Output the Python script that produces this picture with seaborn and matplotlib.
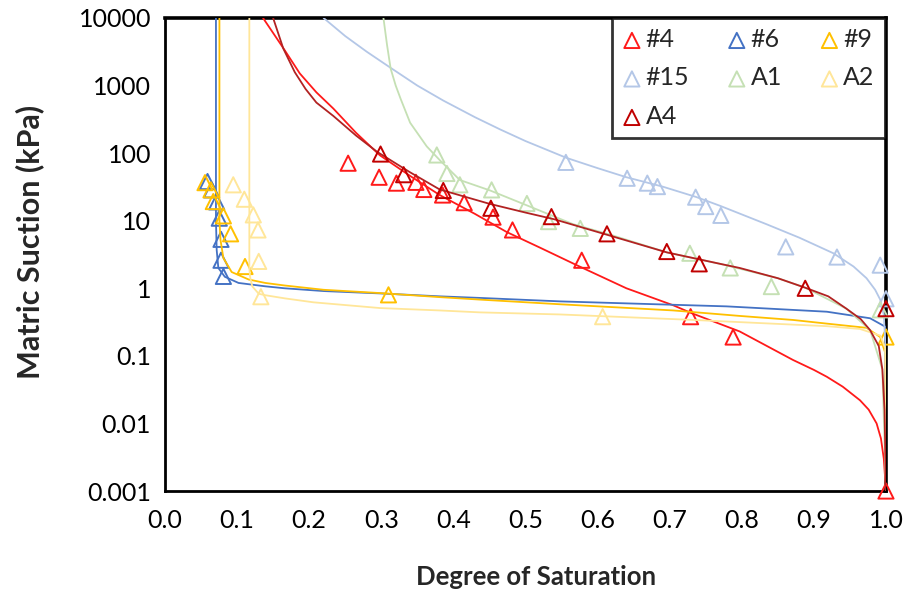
import matplotlib
matplotlib.use('Agg')
import matplotlib.pyplot as plt
import seaborn as sns
import numpy as np
from matplotlib.ticker import LogLocator, MultipleLocator, FuncFormatter, NullFormatter

# measured points: degree of saturation / matric suction (kPa)
s_4 = [0.254, 0.297, 0.321, 0.348, 0.359, 0.385, 0.415, 0.455, 0.482, 0.578, 0.729, 0.788, 1.0]
p_4 = [71, 44, 36, 37, 29, 24, 18.5, 11.3, 7.3, 2.6, 0.38, 0.19, 0.001]
s_6 = [0.059, 0.0647, 0.0717, 0.0753, 0.0777, 0.0777, 0.081]
p_6 = [38, 28.6, 19, 10.9, 5.3, 2.6, 1.5]
s_9 = [0.0555, 0.0638, 0.067, 0.081, 0.091, 0.111, 0.31, 1.0]
p_9 = [36.6, 28.6, 19.2, 11.8, 6.4, 2.1, 0.8, 0.19]
s_15 = [0.556, 0.641, 0.669, 0.683, 0.736, 0.750, 0.771, 0.861, 0.932, 0.992, 1.0]
p_15 = [73, 42.5, 36, 32, 22.3, 16.2, 12, 4.1, 2.9, 2.2, 0.7]
s_a1 = [0.377, 0.391, 0.409, 0.453, 0.502, 0.532, 0.576, 0.728, 0.784, 0.841, 0.992]
p_a1 = [94, 50, 34, 28.6, 18, 9.7, 7.7, 3.3, 2.0, 1.06, 0.48]
s_a2 = [0.0947, 0.110, 0.1225, 0.129, 0.130, 0.133, 0.607]
p_a2 = [34, 20.8, 12.2, 7.3, 2.5, 0.75, 0.38]
s_a4 = [0.299, 0.331, 0.386, 0.452, 0.536, 0.613, 0.696, 0.741, 0.888, 1.0]
p_a4 = [97, 48, 28, 15.3, 11.5, 6.4, 3.5, 2.3, 1.0, 0.5]

# fitted curves
fit_s_4 = [0.136, 0.164, 0.187, 0.21, 0.2335, 0.265, 0.298, 0.34, 0.381, 0.43, 0.474, 0.52,
           0.571, 0.64, 0.705, 0.73, 0.797, 0.871, 0.9, 0.918, 0.94, 0.964, 0.976, 0.987,
           0.993, 0.997, 1.0]
fit_p_4 = [10000, 3600, 1510, 794, 457, 200, 93, 46, 24, 12.6, 6.8, 4.0,
           2.2, 1.0, 0.56, 0.43, 0.23, 0.087, 0.062, 0.049, 0.035, 0.022, 0.016, 0.01,
           0.006, 0.003, 0.001]
fit_s_6 = [0.0707, 0.0707, 0.0717, 0.074, 0.083, 0.102, 0.139, 0.166, 0.22, 0.298, 0.381,
           0.437, 0.548, 0.779, 0.918, 0.978, 0.999, 1.0]
fit_p_6 = [10000, 10, 3.7, 2.0, 1.48, 1.2, 1.07, 1.0, 0.91, 0.84, 0.76,
           0.72, 0.64, 0.54, 0.45, 0.36, 0.27, 0.001]
fit_s_9 = [0.0755, 0.0755, 0.077, 0.081, 0.0925, 0.116, 0.139, 0.166, 0.22, 0.298, 0.381,
           0.437, 0.548, 0.705, 0.797, 0.871, 0.918, 0.973, 0.992, 0.999, 1.0]
fit_p_9 = [10000, 10, 5.2, 2.8, 1.74, 1.35, 1.2, 1.1, 0.95, 0.85, 0.74,
           0.68, 0.58, 0.47, 0.39, 0.34, 0.3, 0.26, 0.19, 0.11, 0.001]
fit_s_15 = [0.22, 0.25, 0.28, 0.312, 0.35, 0.386, 0.43, 0.465, 0.5, 0.557, 0.6, 0.64, 0.69,
            0.737, 0.77, 0.834, 0.88, 0.927, 0.955, 0.973, 0.985, 0.992, 0.997, 0.999, 1.0]
fit_p_15 = [10000, 5400, 3160, 1860, 1000, 600, 340, 224, 151, 85, 60, 44, 32,
            22.4, 16.6, 8.9, 5.6, 3.3, 2.1, 1.41, 0.95, 0.68, 0.4, 0.16, 0.001]
fit_s_a1 = [0.303, 0.308, 0.313, 0.32, 0.327, 0.34, 0.363, 0.381, 0.409, 0.451, 0.506, 0.566,
            0.62, 0.696, 0.77, 0.85, 0.888, 0.945, 0.978, 0.995, 1.0]
fit_p_a1 = [10000, 3980, 1780, 1000, 630, 282, 126, 79, 40, 28, 16.2, 8.9,
            6.1, 3.4, 2.3, 1.41, 1.02, 0.5, 0.24, 0.063, 0.001]
fit_s_a2 = [0.117, 0.117, 0.118, 0.121, 0.13, 0.139, 0.166, 0.206, 0.298, 0.381, 0.437, 0.548,
            0.733, 0.871, 0.918, 0.964, 0.992, 0.999, 1.0]
fit_p_a2 = [10000, 2.0, 1.48, 1.07, 0.83, 0.79, 0.71, 0.62, 0.51, 0.47, 0.44, 0.41,
            0.34, 0.29, 0.275, 0.25, 0.2, 0.13, 0.001]
fit_s_a4 = [0.15, 0.164, 0.18, 0.195, 0.21, 0.2335, 0.265, 0.294, 0.34, 0.381, 0.45, 0.5, 0.54,
            0.613, 0.696, 0.77, 0.797, 0.85, 0.888, 0.92, 0.945, 0.965, 0.978, 0.99, 0.995,
            0.998, 1.0]
fit_p_a4 = [10000, 3550, 1580, 890, 560, 355, 182, 105, 52, 29, 17.8, 13.2, 10.5,
            6.2, 3.4, 2.3, 2.0, 1.41, 1.02, 0.76, 0.5, 0.35, 0.24, 0.14, 0.063,
            0.016, 0.001]

names = ['#4', '#6', '#9', '#15', 'A1', 'A2', 'A4']
colors = ['#FF1A1A', '#4472C4', '#FFC000', '#B4C7E7', '#C5E0B4', '#FFE699', '#C00000']
line_colors = ['#FF1A1A', '#4472C4', '#FFC000', '#B4C7E7', '#C5E0B4', '#FFE699', '#B22222']
points = [(s_4, p_4), (s_6, p_6), (s_9, p_9), (s_15, p_15), (s_a1, p_a1), (s_a2, p_a2), (s_a4, p_a4)]
fits = [(fit_s_4, fit_p_4), (fit_s_6, fit_p_6), (fit_s_9, fit_p_9), (fit_s_15, fit_p_15),
        (fit_s_a1, fit_p_a1), (fit_s_a2, fit_p_a2), (fit_s_a4, fit_p_a4)]

sns.set_style('white')
plt.rcParams['font.family'] = ['Lato', 'DejaVu Sans']

fig = plt.figure(figsize=(9.06, 5.92), dpi=100)
ax = fig.add_axes([0.1821, 0.1706, 0.7958, 0.799])

handles = {}
for i, name in enumerate(names):
    fs, fp = fits[i]
    sns.lineplot(x=fs, y=fp, ax=ax, color=line_colors[i], linewidth=1.3,
                 sort=False, estimator=None, legend=False, zorder=3 + i * 0.1)
    ps, pp = points[i]
    sns.scatterplot(x=ps, y=pp, ax=ax, marker='^', s=120, color=colors[i],
                    facecolor='none', edgecolor=colors[i], linewidth=1.4,
                    clip_on=False, zorder=3.05 + i * 0.1)
    handles[name] = ax.collections[-1]

ax.set_yscale('log')
ax.set_xlim(0, 1)
ax.set_ylim(0.001, 10000)

ax.yaxis.set_major_locator(LogLocator(base=10, numticks=20))
ax.yaxis.set_minor_locator(LogLocator(base=10, subs=np.arange(2, 10), numticks=20))
ax.yaxis.set_major_formatter(FuncFormatter(lambda v, p: f'{v:g}'))
ax.yaxis.set_minor_formatter(NullFormatter())
ax.xaxis.set_major_locator(MultipleLocator(0.1))
ax.xaxis.set_minor_locator(MultipleLocator(0.02))
ax.xaxis.set_major_formatter(FuncFormatter(lambda v, p: f'{v:.1f}'))

ax.tick_params(which='both', direction='in', colors='black', width=1.2)
ax.tick_params(which='major', length=6, labelsize=18)
ax.tick_params(axis='y', which='major', pad=10)
ax.tick_params(axis='x', which='major', pad=13)
ax.tick_params(which='minor', length=3.5)
for sp in ax.spines.values():
    sp.set_color('black')
    sp.set_linewidth(2)
ax.spines['top'].set_linewidth(2.6)
ax.spines['right'].set_linewidth(2.6)

ax.set_xlabel('Degree of Saturation', fontsize=18.5, fontweight='bold')
ax.set_ylabel('Matric Suction (kPa)', fontsize=22, fontweight='bold')
ax.xaxis.set_label_coords(0.514, -0.157)
ax.yaxis.set_label_coords(-0.168, 0.527)

order = ['#4', '#15', 'A4', '#6', 'A1', '#9', 'A2']
leg = ax.legend([handles[n] for n in order], order, ncol=3, loc='upper right',
                bbox_to_anchor=(0.998, 1.0), borderaxespad=0, fontsize=18,
                frameon=True, fancybox=False, handletextpad=0.15, columnspacing=1.5,
                labelspacing=0.62, borderpad=0.4, handlelength=0.8)
leg.get_frame().set_edgecolor('black')
leg.get_frame().set_linewidth(2)
leg.set_zorder(10)

fig.savefig('out.png', dpi=100)
